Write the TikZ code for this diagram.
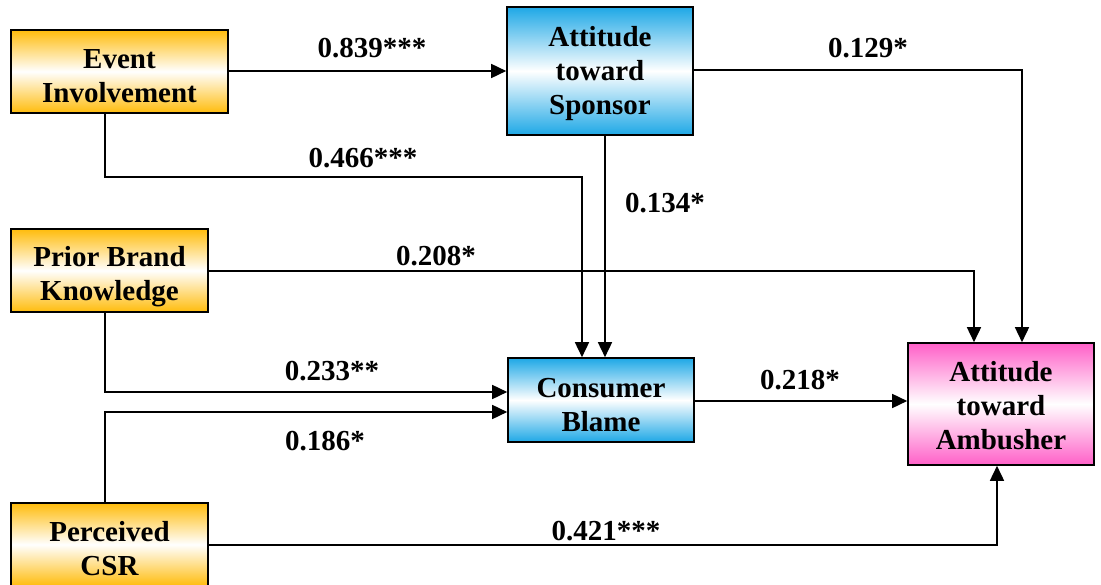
\documentclass[tikz,border=0pt]{standalone}
\usepackage{fontspec}
\setmainfont{Liberation Serif}[BoldFont={Liberation Serif Bold}]
\usetikzlibrary{arrows.meta}
\definecolor{boxorange}{RGB}{255,188,12}
\definecolor{boxblue}{RGB}{30,168,230}
\definecolor{boxpink}{RGB}{255,96,200}
\tikzset{
  box/.style={draw=black, line width=1.6pt, rectangle, inner sep=0pt},
  boxtext/.style={inner sep=0pt, align=center, font=\fontsize{29}{34}\selectfont\bfseries},
  orangebox/.style={box, top color=boxorange, bottom color=boxorange, middle color=white},
  bluebox/.style={box, top color=boxblue, bottom color=boxblue, middle color=white},
  pinkbox/.style={box, top color=boxpink, bottom color=boxpink, middle color=white},
  link/.style={draw=black, line width=1.6pt},
  arr/.style={link, -{Triangle[length=15pt,width=14pt]}},
  coef/.style={font=\fontsize{29}{34}\selectfont\bfseries, anchor=base, inner sep=0pt},
}
\begin{document}
\begin{tikzpicture}[x=1pt, y=-1pt]
\useasboundingbox (0,0) rectangle (1101,585);

% construct boxes
\node[orangebox, minimum width=217pt, minimum height=83pt] (ei)  at (119.5,71.5) {};
\node[orangebox, minimum width=197pt, minimum height=83pt] (pbk) at (109.5,270.5) {};
\node[orangebox, minimum width=197pt, minimum height=83pt] (csr) at (109.5,544.5) {};
\node[bluebox, minimum width=186pt, minimum height=128pt] (ats) at (600,71) {};
\node[bluebox, minimum width=186pt, minimum height=84pt] (cb)  at (601,400) {};
\node[pinkbox, minimum width=186pt, minimum height=122pt] (amb) at (1001,404) {};

% box captions
\node[boxtext] (eiT)  at ([yshift=-5pt]ei.center)    {Event\\Involvement};
\node[boxtext] (pbkT) at ([yshift=-6.5pt]pbk.center) {Prior Brand\\Knowledge};
\node[boxtext] (csrT) at ([yshift=-4pt]csr.center)   {Perceived\\CSR};
\node[boxtext] (atsT) at ([yshift=-2.5pt]ats.center) {Attitude\\toward\\Sponsor};
\node[boxtext] (cbT)  at ([yshift=-5pt]cb.center)    {Consumer\\Blame};
\node[boxtext] (ambT) at ([yshift=-2pt]amb.center)   {Attitude\\toward\\Ambusher};

% bend points of the elbow paths
\coordinate (eiB)  at (105,113);
\coordinate (eiK)  at (582,177);
\coordinate (atsK) at (1022,70);
\coordinate (atsB) at (605,135);
\coordinate (pbkK) at (974,271);
\coordinate (pbkB) at (105,312);
\coordinate (pbkL) at (105,392);
\coordinate (csrU) at (105,503);
\coordinate (csrL) at (105,412);
\coordinate (csrK) at (997,545);

% paths
\draw[arr] (ei.east |- 0,71) -- (ats.west |- 0,71);
\draw[arr] (eiB) |- (eiK) -- (eiK |- cb.north);
\draw[arr] (ats.east |- atsK) -- (atsK) -- (atsK |- amb.north);
\draw[arr] (atsB) -- (atsB |- cb.north);
\draw[arr] (pbk.east |- pbkK) -- (pbkK) -- (pbkK |- amb.north);
\draw[arr] (pbkB) -- (pbkL) -- (pbkL -| cb.west);
\draw[arr] (csrU) -- (csrL) -- (csrL -| cb.west);
\draw[arr] (cb.east |- 0,401) -- (amb.west |- 0,401);
\draw[arr] (csr.east |- csrK) -- (csrK) -- (csrK |- amb.south);

% path coefficients
\node[coef] (c1) at (372,58)  {0.839***};
\node[coef] (c2) at (363,168) {0.466***};
\node[coef] (c3) at (868,58)  {0.129*};
\node[coef] (c4) at (665,213) {0.134*};
\node[coef] (c5) at (436,266) {0.208*};
\node[coef] (c6) at (332,381) {0.233**};
\node[coef] (c7) at (325,450) {0.186*};
\node[coef] (c8) at (800,390) {0.218*};
\node[coef] (c9) at (606,540) {0.421***};
\end{tikzpicture}
\end{document}
